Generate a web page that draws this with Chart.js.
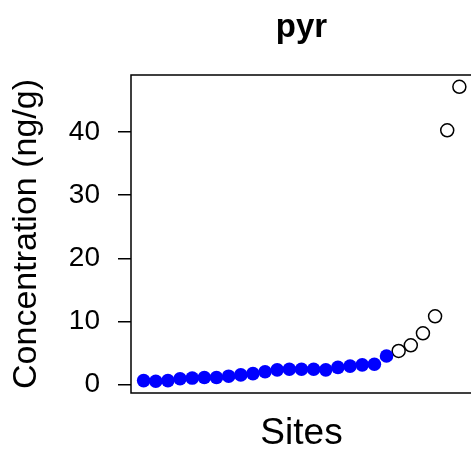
<!DOCTYPE html>
<html>
<head>
<meta charset="utf-8">
<script src="https://cdn.jsdelivr.net/npm/chart.js@4/dist/chart.umd.min.js"></script>
<style>
  html, body { margin: 0; padding: 0; background: #ffffff; overflow: hidden; }
  #wrap { position: relative; width: 480px; height: 457px; }
</style>
</head>
<body>
<div id="wrap"><canvas id="c"></canvas></div>
<script>
// ---- data ----
const chartTitle = "pyr";
const xLabel = "Sites";
const yLabel = "Concentration (ng/g)";
const sites = [1,2,3,4,5,6,7,8,9,10,11,12,13,14,15,16,17,18,19,20,21,22,23,24,25,26,27];
const concentration = [0.6,0.5,0.6,0.9,1.0,1.1,1.1,1.3,1.5,1.7,2.0,2.3,2.4,2.4,2.4,2.3,2.7,2.9,3.1,3.2,4.5,
                       5.3,6.2,8.1,10.8,40.3,47.2];
// filled (blue) = 1, open circle = 0
const filledFlag = [1,1,1,1,1,1,1,1,1,1,1,1,1,1,1,1,1,1,1,1,1,0,0,0,0,0,0];
const yTickValues = [0, 10, 20, 30, 40];

const filledPts = [], openPts = [];
sites.forEach((s, i) => {
  const p = { x: s, y: concentration[i] };
  (filledFlag[i] ? filledPts : openPts).push(p);
});

const n = sites.length;
const xPad = 0.04 * (n - 1);
const yMinV = Math.min(...concentration), yMaxV = Math.max(...concentration);
const yPad = 0.04 * (yMaxV - yMinV);

const boxPlugin = {
  id: 'box',
  afterDraw(chart) {
    const { ctx, chartArea: a } = chart;
    ctx.save();
    ctx.strokeStyle = '#000';
    ctx.lineWidth = 1.5;
    ctx.strokeRect(a.left, a.top, a.right - a.left, a.bottom - a.top);
    ctx.restore();
  }
};

new Chart(document.getElementById('c'), {
  type: 'scatter',
  data: {
    datasets: [
      { data: filledPts, pointRadius: 6.8, pointHoverRadius: 6.8, pointBackgroundColor: '#0000FF',
        pointBorderColor: '#0000FF', pointBorderWidth: 0 },
      { data: openPts, pointRadius: 6.5, pointHoverRadius: 6.5, pointBackgroundColor: 'rgba(0,0,0,0)',
        pointBorderColor: '#000000', pointBorderWidth: 1.5 }
    ]
  },
  options: {
    responsive: true,
    maintainAspectRatio: false,
    animation: false,
    events: [],
    layout: { padding: { left: 0, right: 4, top: 0, bottom: 0 } },
    plugins: {
      legend: { display: false },
      tooltip: { enabled: false },
      title: {
        display: true, text: chartTitle, fullSize: false,
        color: '#000',
        font: { family: 'Liberation Sans, Arial, sans-serif', size: 33, weight: 'bold', lineHeight: 1.2 },
        padding: { top: 8, bottom: 27.4 }
      }
    },
    scales: {
      x: {
        type: 'linear',
        min: sites[0] - xPad, max: sites[n - 1] + xPad,
        grid: { display: false, drawTicks: false },
        border: { display: false },
        ticks: { display: false },
        title: {
          display: true, text: xLabel, color: '#000',
          font: { family: 'Liberation Sans, Arial, sans-serif', size: 37, lineHeight: 1.2 },
          padding: { top: 0, bottom: 1 }
        },
        afterFit(scale) { scale.height = 64; }
      },
      y: {
        type: 'linear',
        min: yMinV - yPad, max: yMaxV + yPad,
        afterBuildTicks(scale) { scale.ticks = yTickValues.map(v => ({ value: v })); },
        grid: { display: true, drawOnChartArea: false, drawTicks: true, tickLength: 13, color: '#000', lineWidth: 1.5 },
        border: { display: false },
        ticks: {
          color: '#000', padding: 18,
          font: { family: 'Liberation Sans, Arial, sans-serif', size: 28 }
        },
        title: {
          display: true, text: yLabel, color: '#000',
          font: { family: 'Liberation Sans, Arial, sans-serif', size: 34, lineHeight: 1.2 },
          padding: { top: 6, bottom: 0 }
        },
        afterFit(scale) { scale.width = 131; }
      }
    }
  },
  plugins: [boxPlugin]
});
</script>
</body>
</html>
